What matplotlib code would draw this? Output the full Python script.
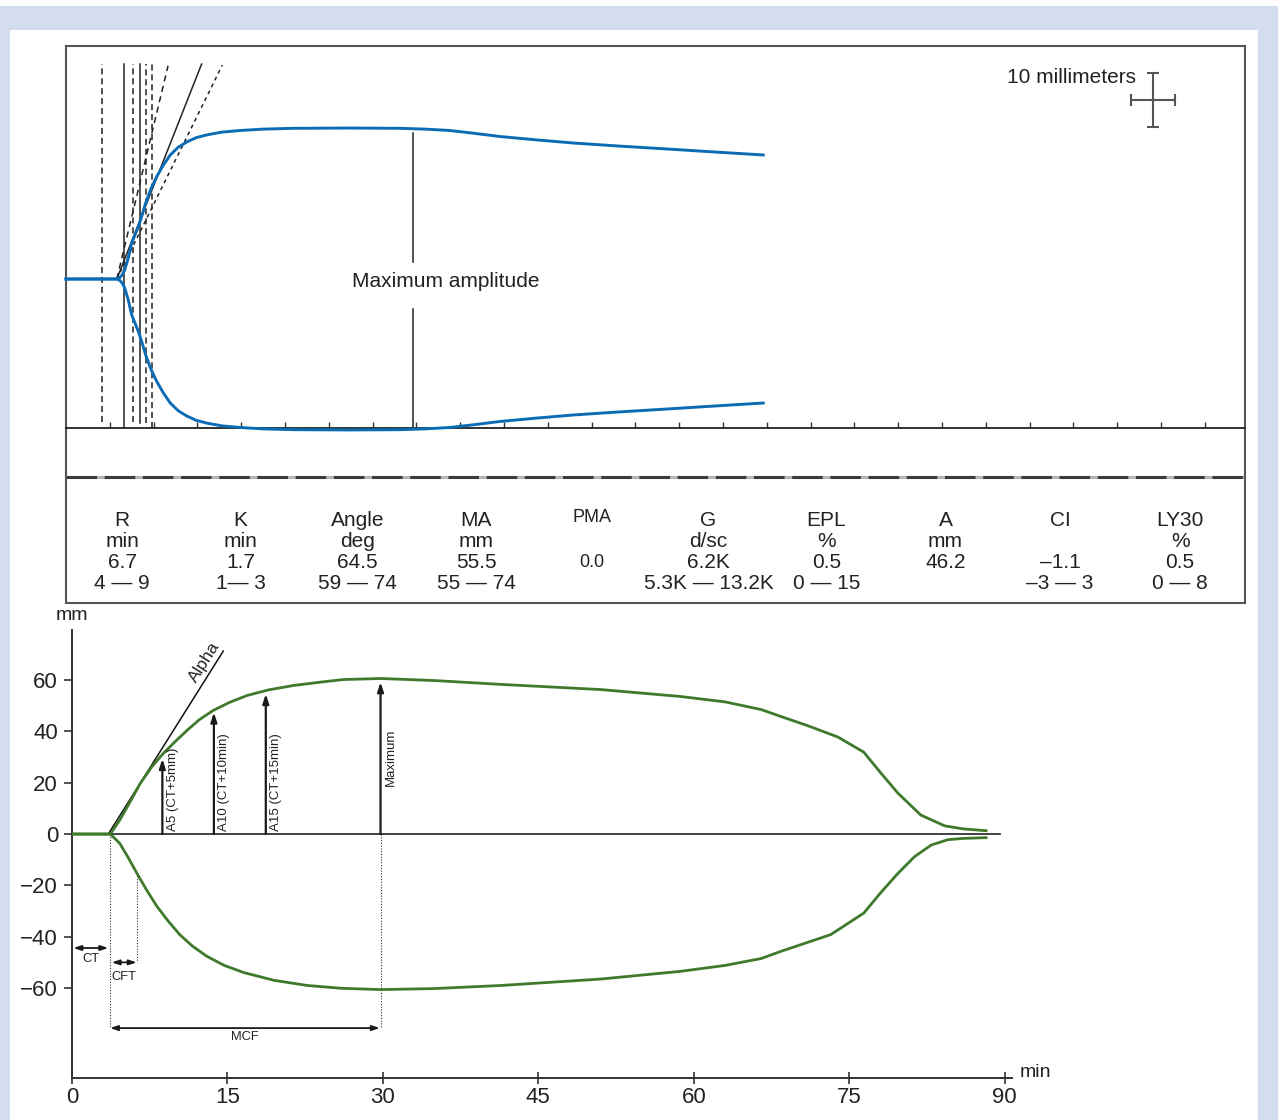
import numpy as np
import matplotlib.pyplot as plt
from matplotlib.patches import Rectangle

plt.rcParams['font.family'] = ['Liberation Sans', 'DejaVu Sans']

# ---- data: TEG trace (top), time in min, half amplitude in mm
teg_time = [0, 5.8, 6.1, 6.4, 6.7, 7.1, 7.5, 7.9, 8.25, 8.7, 9.1, 9.7, 10.35,
            11.1, 11.9, 12.8, 13.8, 14.9, 16.1, 17.8, 19.9, 22.5, 26.0, 32.4,
            38.1, 41.0, 43.8, 46.5, 49.5, 53.5, 57.9, 63.0, 68.6, 74.0, 79.6]
teg_half = [0, 0, 0.2, 0.7, 1.65, 3.8, 6.6, 8.2, 9.6, 11.8, 14.0, 16.6, 18.8,
            20.9, 22.8, 24.2, 25.2, 26.0, 26.5, 27.0, 27.3, 27.55, 27.7, 27.75,
            27.7, 27.55, 27.3, 26.8, 26.2, 25.6, 25.0, 24.45, 23.9, 23.35, 22.8]

# vertical guide lines (time, bottom in mm, style)
guide_time = [4.07, 6.65, 7.68, 8.45, 9.13, 9.78]
guide_bottom = [-26.3, -27.4, -26.3, -26.5, -26.5, -27.4]
guide_style = ['dashed', 'solid', 'dashed', 'solid', 'dashed', 'dashed']
guide_top = 39.5

# angle lines from the split point
angle_start = 5.8
angle_end_time = [11.65, 15.48, 17.84]
angle_end_amp = [39.2, 39.5, 39.3]
angle_style = [(0, (4, 3)), 'solid', (0, (2.5, 2.5))]

ma_time = 39.6

# ---- data: result table
params = ['R', 'K', 'Angle', 'MA', 'PMA', 'G', 'EPL', 'A', 'CI', 'LY30']
units = ['min', 'min', 'deg', 'mm', '', 'd/sc', '%', 'mm', '', '%']
values = ['6.7', '1.7', '64.5', '55.5', '0.0', '6.2K', '0.5', '46.2', '\u20131.1', '0.5']
ranges = ['4 \u2014 9', '1\u2014 3', '59 \u2014 74', '55 \u2014 74', '',
          '5.3K \u2014 13.2K', '0 \u2014 15', '', '\u20133 \u2014 3', '0 \u2014 8']
col_x = [0.0475, 0.148, 0.247, 0.348, 0.446, 0.545, 0.645, 0.746, 0.843, 0.945]

# ---- data: ROTEM-style trace (bottom), time in min, amplitude in mm
up_time = [0, 3.7, 4.6, 5.6, 6.6, 7.7, 8.8, 10.0, 11.1, 12.3, 13.6, 15.2, 16.9,
           19.0, 21.4, 24.0, 26.2, 29.8, 35.0, 41.4, 51.0, 58.7, 63.0, 66.5,
           68.4, 71.0, 73.9, 76.4, 78.0, 79.7, 81.9, 84.2, 86.0, 88.2]
up_amp = [0, 0, 5.4, 12.5, 19.8, 26.2, 31.4, 36.2, 40.4, 44.6, 48.1, 51.3, 54.0,
          56.2, 57.9, 59.2, 60.2, 60.6, 59.8, 58.3, 56.3, 53.6, 51.5, 48.5,
          45.8, 42.2, 37.8, 31.9, 24.0, 15.9, 7.4, 3.2, 2.0, 1.3]
low_time = [0, 3.7, 4.6, 5.4, 6.25, 7.2, 8.2, 9.3, 10.4, 11.6, 13.0, 14.7,
            16.6, 19.5, 22.7, 26.0, 29.8, 35.0, 41.4, 51.0, 58.7, 63.0, 66.5,
            68.4, 73.2, 76.4, 78.0, 79.7, 81.3, 82.9, 84.5, 86.0, 88.2]
low_amp = [0, 0, -3.6, -9.0, -15.2, -21.8, -28.2, -34.0, -39.2, -43.6, -47.6,
           -51.2, -54.0, -57.0, -59.0, -60.1, -60.6, -60.2, -59.0, -56.5, -53.5,
           -51.2, -48.5, -45.7, -39.2, -30.8, -23.0, -15.3, -8.8, -4.3, -2.2,
           -1.7, -1.4]

alpha_start = (3.5, 0)
alpha_end = (14.6, 71.3)

arrow_time = [8.72, 13.69, 18.7, 29.77]
arrow_tip = [29.3, 47.4, 54.6, 59.2]
arrow_label = ['A5 (CT+5mm)', 'A10 (CT+10min)', 'A15 (CT+15min)', 'Maximum']
label_base = [1.0, 1.0, 1.0, 18.7]

ct_span = (0.13, 3.5, -44.4)
cft_span = (3.83, 6.24, -50.0)
mcf_span = (3.67, 29.7, -75.6)

W, H = 1278, 1120


def rect(x0, y0, x1, y1):
    return [x0 / W, 1 - y1 / H, (x1 - x0) / W, (y1 - y0) / H]


fig = plt.figure(figsize=(W / 100, H / 100), dpi=100)
fig.patch.set_facecolor('#d4ddee')
fig.add_artist(Rectangle((10 / W, 0), 1248 / W, 1 - 30 / H, transform=fig.transFigure,
                         facecolor='white', edgecolor='none', zorder=-10))
fig.add_artist(Rectangle((0, 1 - 6 / H), 1, 6 / H, transform=fig.transFigure,
                         facecolor='white', edgecolor='none', zorder=-10))

dark = '#333333'
blue = '#0b6cb5'
green = '#3f7a2c'
box = '#555555'

# ---- results table (drawn under the trace)
tb = fig.add_axes(rect(66, 428, 1245, 603))
tb.set_zorder(1)
tb.patch.set_visible(False)
tb.set_xlim(0, 1)
tb.set_ylim(0, 1)
tb.set_xticks([])
tb.set_yticks([])
for s in ['left', 'bottom', 'right']:
    tb.spines[s].set_color(box)
    tb.spines[s].set_linewidth(1.5)
tb.spines['top'].set_visible(False)
tb.plot([0, 1], [0.72, 0.72], color='#b5b5b5', lw=2.2)
tb.plot([0, 1], [0.72, 0.72], color='#3c3c3c', lw=2.2, ls=(0, (10, 2.5)))

row_y = [0.474, 0.349, 0.229, 0.109]
for i, x in enumerate(col_x):
    small = params[i] == 'PMA'
    fs = 13 if small else 15
    rows = [params[i], units[i], values[i], ranges[i]]
    for y, s in zip(row_y, rows):
        if s:
            tb.text(x, y + (0.012 if small and y == row_y[0] else 0), s, fontsize=fs,
                    ha='center', va='center', color='#222222')

# ---- top trace
ax = fig.add_axes(rect(66, 46, 1245, 428))
ax.set_zorder(2)
ax.patch.set_visible(False)
ax.set_xlim(0, 134.6)
ax.set_ylim(-27.39, 42.83)
for s in ['left', 'top', 'right']:
    ax.spines[s].set_color(box)
    ax.spines[s].set_linewidth(1.5)
ax.spines['bottom'].set_color('#222222')
ax.spines['bottom'].set_linewidth(1.3)
ax.set_xticks(np.arange(5, 131, 5))
ax.set_yticks([])
ax.tick_params(axis='x', direction='in', length=4, width=1, color=dark, labelbottom=False)

t = np.array(teg_time)
h = np.array(teg_half)
ax.plot(t, h, color=blue, lw=2.1, clip_on=False, zorder=4)
ax.plot(t, -h, color=blue, lw=2.1, clip_on=False, zorder=4)

for x, yb, st in zip(guide_time, guide_bottom, guide_style):
    ls = (0, (4, 2.5)) if st == 'dashed' else '-'
    ax.plot([x, x], [yb, guide_top], color='#222222', lw=1.1, ls=ls, zorder=2)
for xe, ye, st in zip(angle_end_time, angle_end_amp, angle_style):
    ax.plot([angle_start, xe], [0, ye], color='#222222', lw=1.1, ls=st, zorder=2)

ax.plot([ma_time, ma_time], [3.1, 26.8], color='#222222', lw=1.1)
ax.plot([ma_time, ma_time], [-27.39, -5.5], color='#222222', lw=1.1)
ax.text(43.4, -0.37, 'Maximum amplitude', fontsize=15, ha='center', va='center', color='#222222')

ax.errorbar([124.1], [32.9], xerr=[2.5], yerr=[5.05], color='#555555', lw=1.5,
            capsize=4, capthick=1.5)
ax.text(122.1, 37.1, '10 millimeters', fontsize=15, ha='right', va='center', color='#222222')

# ---- bottom trace
bx = fig.add_axes(rect(72, 630, 1012, 1078))
bx.set_xlim(0, 90.7)
bx.set_ylim(-95.05, 79.5)
bx.spines['top'].set_visible(False)
bx.spines['right'].set_visible(False)
for s in ['left', 'bottom']:
    bx.spines[s].set_color(dark)
    bx.spines[s].set_linewidth(1.4)
bx.set_xticks([0, 15, 30, 45, 60, 75, 90])
bx.set_yticks([-60, -40, -20, 0, 20, 40, 60])
bx.tick_params(axis='x', direction='inout', length=9, width=1.2, color=dark,
               labelsize=16, pad=2, labelcolor='#222222')
bx.tick_params(axis='y', direction='out', length=6, width=1.2, color=dark,
               labelsize=16, pad=4, labelcolor='#222222')
bx.text(0, 1.033, 'mm', transform=bx.transAxes, fontsize=14, ha='center', va='center',
        color='#222222')
bx.text(1.0085, 0.012, 'min', transform=bx.transAxes, fontsize=14, ha='left', va='center',
        color='#222222')

bx.plot([0, 89.5], [0, 0], color=dark, lw=1.3, zorder=2)
bx.plot(up_time, up_amp, color=green, lw=2, zorder=3)
bx.plot(low_time, low_amp, color=green, lw=2, zorder=3)

# alpha line
bx.plot([alpha_start[0], alpha_end[0]], [alpha_start[1], alpha_end[1]], color='#111111', lw=1.1)
ang = np.degrees(np.arctan2(alpha_end[1] - alpha_start[1], alpha_end[0] - alpha_start[0]))
bx.text(12.83, 66.8, 'Alpha', fontsize=12.5, rotation=ang, transform_rotates_text=True,
        rotation_mode='anchor', ha='center', va='center', color='#222222')

# amplitude arrows
for x, tip, lab, yb in zip(arrow_time, arrow_tip, arrow_label, label_base):
    bx.annotate('', xy=(x, tip), xytext=(x, 0),
                arrowprops=dict(arrowstyle='-|>,head_length=0.55,head_width=0.18',
                                color='#1a1a1a', lw=1.6, shrinkA=0, shrinkB=0))
    bx.text(x + 0.4, yb, lab, fontsize=9.5, rotation=90, ha='left', va='bottom',
            color='#222222')

# dotted guides
bx.plot([3.7, 3.7], [0, mcf_span[2]], color=dark, lw=0.8, ls=(0, (1, 1.5)))
bx.plot([6.25, 6.25], [-15.2, cft_span[2]], color=dark, lw=0.8, ls=(0, (1, 1.5)))
bx.plot([29.8, 29.8], [0, mcf_span[2]], color=dark, lw=0.8, ls=(0, (1, 1.5)))

# time spans
for (x0, x1, y), lab, ly in zip([ct_span, cft_span, mcf_span], ['CT', 'CFT', 'MCF'],
                                [-48.6, -55.8, -78.9]):
    bx.annotate('', xy=(x1, y), xytext=(x0, y),
                arrowprops=dict(arrowstyle='<|-|>,head_length=0.45,head_width=0.15',
                                color='#1a1a1a', lw=1.3, shrinkA=0, shrinkB=0))
    bx.text((x0 + x1) / 2, ly, lab, fontsize=9.3, ha='center', va='center', color='#222222')

fig.savefig('out.png', dpi=100, facecolor=fig.get_facecolor())
